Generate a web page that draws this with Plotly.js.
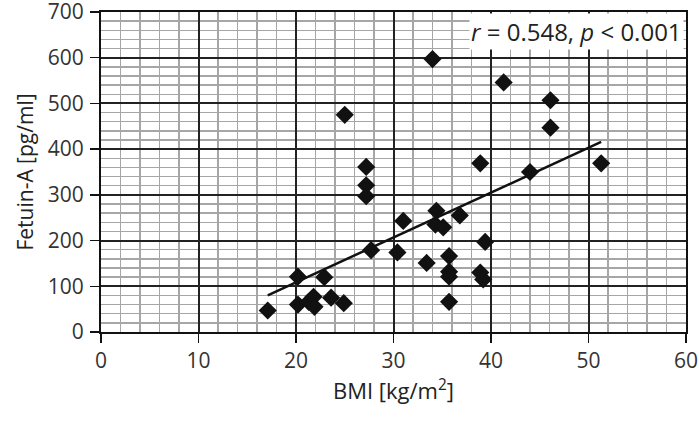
<!DOCTYPE html>
<html>
<head>
<meta charset="utf-8">
<script src="https://cdn.plot.ly/plotly-3.0.1.min.js"></script>
<style>html,body{margin:0;padding:0;background:#fff;}#chart{width:699px;height:422px;}</style>
</head>
<body>
<div id="chart"></div>
<script>
const bmi = [17.1, 20.2, 20.2, 21.3, 21.8, 21.9, 22.9, 23.6, 24.9, 25.0,
             27.2, 27.2, 27.2, 27.7, 30.4, 31.0, 33.4, 34.0, 34.3, 34.4,
             35.1, 35.7, 35.7, 35.7, 35.7, 36.8, 38.9, 38.9, 39.2, 39.4,
             41.3, 44.0, 46.1, 46.1, 51.3];
const fetuinA = [47, 121, 60, 66, 77, 55, 120, 75, 63, 475,
                 361, 321, 297, 179, 174, 243, 151, 597, 235, 265,
                 229, 166, 132, 121, 66, 255, 369, 130, 115, 197,
                 546, 350, 507, 447, 369];
const xRange = [0, 60];
const yRange = [0, 700];
const statText = '<i>r</i> = 0.548, <i>p</i> < 0.001';

// least-squares fit
const n = bmi.length;
const mx = bmi.reduce((a, b) => a + b, 0) / n;
const my = fetuinA.reduce((a, b) => a + b, 0) / n;
let sxy = 0, sxx = 0;
for (let i = 0; i < n; i++) { sxy += (bmi[i] - mx) * (fetuinA[i] - my); sxx += (bmi[i] - mx) ** 2; }
const slope = sxy / sxx, intercept = my - slope * mx;
const xmin = Math.min(...bmi), xmax = Math.max(...bmi);
const fitX = [xmin, xmax];
const fitY = fitX.map(v => intercept + slope * v);

const font = 'Open Sans, Noto Sans, sans-serif';
const data = [
  { x: fitX, y: fitY, mode: 'lines', line: { color: '#111', width: 2.5 }, hoverinfo: 'skip' },
  { x: bmi, y: fetuinA, mode: 'markers', marker: { symbol: 'diamond', size: 14, color: '#111' } }
];
const layout = {
  width: 699, height: 422,
  margin: { l: 101, r: 13, t: 12, b: 90 },
  paper_bgcolor: '#fff', plot_bgcolor: '#fff',
  showlegend: false,
  font: { family: font, color: '#333', size: 21 },
  xaxis: {
    range: xRange, tickmode: 'linear', tick0: 0, dtick: 10,
    showgrid: true, gridcolor: '#222', gridwidth: 2,
    minor: { dtick: 2, tick0: 0, showgrid: true, gridcolor: '#a6a6a6', gridwidth: 1.4 },
    showline: true, linecolor: '#111', linewidth: 2, mirror: true,
    ticks: 'outside', ticklen: 9, tickcolor: '#111', tickwidth: 1.5,
    zeroline: false, ticklabelstandoff: 0, ticklabeloverflow: 'allow',
    tickfont: { family: font, size: 21, color: '#333' },
    title: { text: 'BMI [kg/m<sup>2</sup>]', font: { family: font, size: 22, color: '#222' }, standoff: 10 }
  },
  yaxis: {
    range: yRange, tickmode: 'linear', tick0: 0, dtick: 100,
    showgrid: true, gridcolor: '#222', gridwidth: 2,
    minor: { dtick: 20, tick0: 0, showgrid: true, gridcolor: '#a6a6a6', gridwidth: 1.4 },
    showline: true, linecolor: '#111', linewidth: 2, mirror: true,
    ticks: 'outside', ticklen: 9, tickcolor: '#111', tickwidth: 1.5,
    zeroline: false, ticklabelstandoff: 2, ticklabeloverflow: 'allow',
    tickfont: { family: font, size: 21, color: '#333' },
    title: { text: 'Fetuin-A [pg/ml]', font: { family: font, size: 21, color: '#222' }, standoff: 8 }
  },
  annotations: [{
    xref: 'paper', yref: 'paper', x: 0.996, y: 0.998, xanchor: 'right', yanchor: 'top',
    text: statText, showarrow: false, bgcolor: '#fff', borderpad: 1,
    font: { family: font, size: 24, color: '#222' }
  }]
};
Plotly.newPlot('chart', data, layout, { displayModeBar: false, staticPlot: true });
</script>
</body>
</html>
